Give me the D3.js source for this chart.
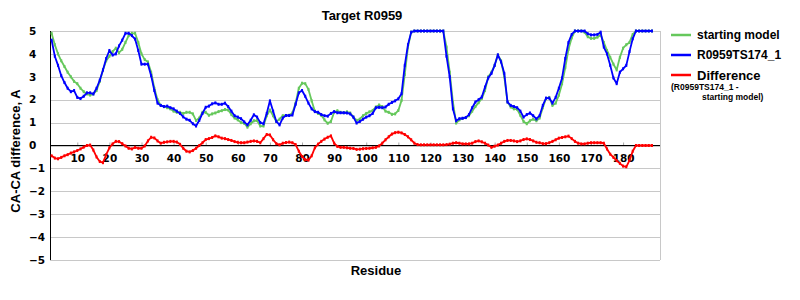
<!DOCTYPE html>
<html>
<head>
<meta charset="utf-8">
<script src="https://cdn.jsdelivr.net/npm/d3@7"></script>
<style>
  body { margin: 0; background: #fff; }
  svg text { font-family: "Liberation Sans", Arial, sans-serif; font-weight: bold; }
</style>
</head>
<body>
<div id="viz"></div>
<script>
"use strict";
// residues 2..189
const firstResidue = 2
const lastResidue = 189

// starting model, rows by decade (first row is 2-9)
const startingModel = [
    4.9, 4.4, 4.0, 3.7, 3.45, 3.2, 3.0, 2.8,
    2.7, 2.5, 2.35, 2.25, 2.2, 2.25, 2.4, 2.8, 3.3, 3.7,
    3.9, 4.1, 4.25, 4.05, 4.2, 4.5, 4.8, 4.9, 4.9, 4.5,
    4.0, 3.75, 3.65, 3.2, 2.5, 2.0, 1.75, 1.7, 1.65, 1.6,
    1.5, 1.45, 1.45, 1.4, 1.45, 1.45, 1.38, 1.09, 1.2, 1.45,
    1.45, 1.32, 1.38, 1.42, 1.48, 1.52, 1.57, 1.55, 1.35, 1.2,
    1.12, 1.0, 0.97, 0.8, 0.95, 1.08, 1.09, 0.85, 0.85, 1.3,
    1.55, 1.3, 1.05, 1.15, 1.3, 1.31, 1.32, 1.42, 1.85, 2.5,
    2.72, 2.7, 2.45, 1.95, 1.5, 1.4, 1.32, 1.12, 0.97, 1.05,
    1.45, 1.52, 1.45, 1.43, 1.47, 1.42, 1.24, 1.1, 1.15, 1.3,
    1.4, 1.47, 1.53, 1.68, 1.77, 1.7, 1.5, 1.45, 1.36, 1.38,
    1.53, 1.97, 3.1, 4.3, 4.95, 5, 5, 5, 5, 5,
    5, 5, 5, 5, 5, 4.3, 3.2, 1.9, 0.98, 1.12,
    1.18, 1.22, 1.3, 1.5, 1.7, 1.87, 2.05, 2.4, 3.0, 3.2,
    3.5, 3.95, 3.7, 3.0, 1.9, 1.68, 1.6, 1.58, 1.32, 1.05,
    0.95, 1.08, 1.15, 1.08, 1.2, 1.65, 2.05, 2.1, 1.75, 1.85,
    2.2, 2.7, 3.4, 4.2, 4.7, 5, 5, 5, 4.95, 4.75,
    4.68, 4.68, 4.73, 4.83, 4.5, 4.15, 3.85, 3.55, 3.3, 3.85,
    4.25, 4.4, 4.5, 4.85, 5, 5, 5, 5, 5, 5
]

// R0959TS174_1
const model = [
    4.6, 3.9, 3.5, 3.05, 2.75, 2.5, 2.35, 2.4,
    2.1, 2.05, 2.15, 2.3, 2.3, 2.25, 2.5, 2.85, 3.3, 3.8,
    4.15, 3.95, 4.0, 4.35, 4.6, 4.9, 4.9, 4.8, 4.65, 4.15,
    3.55, 3.55, 3.55, 3.05, 2.4, 1.85, 1.75, 1.7, 1.72, 1.65,
    1.6, 1.5, 1.4, 1.25, 1.15, 1.1, 0.95, 0.85, 1.1, 1.4,
    1.67, 1.72, 1.82, 1.86, 1.8, 1.8, 1.85, 1.7, 1.5, 1.3,
    1.24, 1.17, 1.03, 0.9, 1.1, 1.34, 1.24, 1.0, 0.95, 1.4,
    1.95, 1.5, 1.05, 0.9, 1.2, 1.31, 1.31, 1.33, 1.8, 2.3,
    2.4, 2.15, 1.85, 1.6, 1.48, 1.45, 1.35, 1.3, 1.28, 1.4,
    1.48, 1.43, 1.43, 1.43, 1.42, 1.38, 1.24, 0.98, 1.05, 1.15,
    1.24, 1.3, 1.4, 1.65, 1.67, 1.65, 1.68, 1.8, 1.88, 1.95,
    2.04, 2.26, 3.5, 4.4, 4.95, 5, 5, 5, 5, 5,
    5, 5, 5, 5, 5, 3.9, 3.0, 1.6, 1.08, 1.17,
    1.19, 1.22, 1.35, 1.65, 1.9, 2.0, 2.12, 2.55, 2.95, 3.15,
    3.5, 3.96, 3.65, 3.15, 1.9, 1.75, 1.7, 1.65, 1.5, 1.24,
    1.35, 1.42, 1.3, 1.16, 1.3, 1.75, 2.07, 2.07, 1.85, 2.1,
    2.5, 2.95, 3.8, 4.5, 4.85, 5, 5, 5, 5, 4.88,
    4.83, 4.83, 4.85, 4.95, 4.3, 4.0, 3.5, 2.95, 2.7, 3.2,
    3.35, 3.5, 4.1, 4.66, 5, 5, 5, 5, 5, 5
]

// Difference (R0959TS174_1 - starting model)
const difference = [
    -0.45, -0.55, -0.58, -0.52, -0.45, -0.4, -0.33, -0.28,
    -0.22, -0.15, -0.07, 0.0, 0.02, -0.2, -0.5, -0.7, -0.75, -0.4,
    -0.1, 0.07, 0.18, 0.17, 0.08, -0.02, -0.12, -0.15, -0.08, -0.12,
    -0.12, -0.02, 0.2, 0.36, 0.33, 0.2, 0.1, 0.14, 0.16, 0.18,
    0.18, 0.15, 0.05, -0.12, -0.25, -0.28, -0.22, -0.12, 0.0, 0.12,
    0.26, 0.3, 0.35, 0.42, 0.38, 0.32, 0.3, 0.26, 0.22, 0.17,
    0.14, 0.12, 0.12, 0.15, 0.18, 0.2, 0.18, 0.12, 0.3, 0.48,
    0.46, 0.25, 0.08, 0.03, 0.1, 0.13, 0.15, 0.12, 0.04, -0.25,
    -0.48, -0.62, -0.64, -0.45, -0.1, 0.06, 0.18, 0.28, 0.36, 0.42,
    0.1, -0.04, -0.08, -0.08, -0.1, -0.12, -0.13, -0.17, -0.16, -0.14,
    -0.13, -0.12, -0.1, -0.08, -0.02, 0.1, 0.25, 0.38, 0.5, 0.56,
    0.58, 0.55, 0.48, 0.38, 0.25, 0.1, 0.04, 0.03, 0.03, 0.03,
    0.03, 0.03, 0.03, 0.03, 0.03, 0.04, 0.06, 0.1, 0.12, 0.1,
    0.07, 0.07, 0.07, 0.1, 0.17, 0.2, 0.16, 0.1, 0.02, -0.08,
    -0.03, 0.02, 0.1, 0.18, 0.22, 0.22, 0.2, 0.17, 0.2, 0.26,
    0.29, 0.26, 0.2, 0.14, 0.12, 0.08, 0.08, 0.12, 0.18, 0.25,
    0.32, 0.35, 0.38, 0.41, 0.3, 0.18, 0.1, 0.07, 0.07, 0.1,
    0.12, 0.12, 0.12, 0.12, 0.1, -0.15, -0.38, -0.52, -0.66, -0.78,
    -0.9, -0.93, -0.65, -0.25, 0, 0, 0, 0, 0, 0
]

const xTicks = [10, 20, 30, 40, 50, 60, 70, 80, 90, 100, 110, 120, 130, 140, 150, 160, 170, 180]
const yTicks = [5, 4, 3, 2, 1, 0, -1, -2, -3, -4, -5]

const seriesNames = ["starting model", "R0959TS174_1", "Difference"]
const seriesColors = ["#66c85c", "#0000ff", "#ff0000"]

const measurements = {
    width: 800,
    height: 300,
    left: 50,
    right: 660,
    top: 31,
    bottom: 260
}

const svg = d3.select('#viz').append("svg")
    .attr('width', measurements.width)
    .attr('height', measurements.height)

const residues = d3.range(firstResidue, lastResidue + 1)

const scaleX = d3.scaleLinear()
    .domain([1.5, 191.5])
    .range([measurements.left, measurements.right])

const scaleY = d3.scaleLinear()
    .domain([-5, 5])
    .range([measurements.bottom, measurements.top])

// gridlines
svg.append('g')
    .attr('transform', `translate(${measurements.left},0)`)
    .call(d3.axisLeft(scaleY).tickValues(yTicks).tickSize(-(measurements.right - measurements.left)).tickFormat(""))
    .call(g => g.select(".domain").remove())
    .call(g => g.selectAll("line").attr("stroke", "#c8c8c8").attr("shape-rendering", "crispEdges"))

// right border
svg.append('line')
    .attr('x1', measurements.right).attr('x2', measurements.right)
    .attr('y1', measurements.top).attr('y2', measurements.bottom)
    .attr('stroke', '#c8c8c8')
    .attr('shape-rendering', 'crispEdges')

// y labels (left aligned like the original)
svg.append('g')
    .selectAll('text')
    .data(yTicks)
    .enter()
    .append('text')
    .attr('x', 29)
    .attr('y', d => scaleY(d))
    .attr('dy', '0.36em')
    .style('font-family', '"DejaVu Sans", Verdana, sans-serif')
    .style('font-size', '10.5px')
    .text(d => d < 0 ? "\u2212" + Math.abs(d) : d)

// left axis
svg.append('line')
    .attr('x1', measurements.left).attr('x2', measurements.left)
    .attr('y1', measurements.top).attr('y2', measurements.bottom)
    .attr('stroke', '#000')
    .attr('shape-rendering', 'crispEdges')

// x axis along zero
const xAxis = svg.append('g')
    .attr('transform', `translate(0,${scaleY(0)})`)
    .call(d3.axisBottom(scaleX).tickValues(xTicks).tickSize(0).tickPadding(9).tickFormat(d3.format("d")))
xAxis.select(".domain").remove()
xAxis.selectAll("text")
    .style('font-family', '"DejaVu Sans", Verdana, sans-serif')
    .style('font-size', '10.5px')
    .style('font-weight', 'bold')
    .attr('fill', '#000')
xAxis.selectAll(".tick").append("line")
    .attr("y1", 0).attr("y2", -3)
    .attr("stroke", "#aaa")
svg.append('line')
    .attr('x1', measurements.left).attr('x2', measurements.right)
    .attr('y1', scaleY(0)).attr('y2', scaleY(0))
    .attr('stroke', '#000')
    .attr('shape-rendering', 'crispEdges')

// lines
const allSeries = [startingModel, model, difference]
const line = d3.line()
    .x((d, i) => scaleX(residues[i]))
    .y(d => scaleY(d))

allSeries.forEach(function(values, k) {
    svg.append('path')
        .datum(values)
        .attr('fill', 'none')
        .attr('stroke', seriesColors[k])
        .attr('stroke-width', 1.8)
        .attr('stroke-linejoin', 'round')
        .attr('d', line)
    // small dash markers
    svg.append('g')
        .selectAll('rect')
        .data(values)
        .enter()
        .append('rect')
        .attr('x', (d, i) => scaleX(residues[i]) - 1)
        .attr('y', d => scaleY(d) - 1.5)
        .attr('width', 2)
        .attr('height', 3)
        .attr('fill', seriesColors[k])
})

// title + axis titles
svg.append('text')
    .attr('x', 362)
    .attr('y', 20)
    .attr('text-anchor', 'middle')
    .style('font-size', '13px')
    .text('Target R0959')

svg.append('text')
    .attr('x', 376)
    .attr('y', 275)
    .attr('text-anchor', 'middle')
    .style('font-size', '13px')
    .text('Residue')

svg.append('text')
    .attr('transform', 'translate(20,151) rotate(-90)')
    .attr('text-anchor', 'middle')
    .style('font-size', '13px')
    .text('CA-CA difference, A')

// legend
const legendY = [35, 55, 75]
seriesNames.forEach(function(name, k) {
    svg.append('line')
        .attr('x1', 671).attr('x2', 691)
        .attr('y1', legendY[k]).attr('y2', legendY[k])
        .attr('stroke', seriesColors[k])
        .attr('stroke-width', 2.5)
    svg.append('text')
        .attr('x', 697)
        .attr('y', legendY[k])
        .attr('dy', '0.36em')
        .style('font-size', k === 2 ? '13px' : '12px')
        .text(name)
})
svg.append('text')
    .attr('x', 671)
    .attr('y', 87)
    .attr('dy', '0.36em')
    .style('font-size', '8.5px')
    .text('(R0959TS174_1 -')
svg.append('text')
    .attr('x', 702)
    .attr('y', 97)
    .attr('dy', '0.36em')
    .style('font-size', '8.5px')
    .text('starting model)')
</script>
</body>
</html>
